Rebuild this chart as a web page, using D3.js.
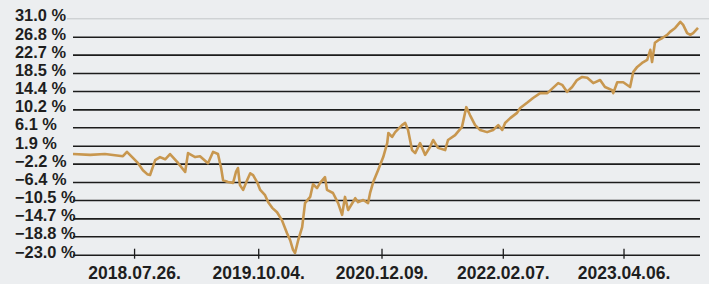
<!DOCTYPE html>
<html>
<head>
<meta charset="utf-8">
<title>Hozam</title>
<script src="https://d3js.org/d3.v7.min.js"></script>
<style>
  body { margin: 0; background: #eceef0; overflow: hidden; }
  svg { display: block; }
  text { font-family: "Liberation Sans", Arial, sans-serif; font-weight: bold; fill: #1e1e1e; }
</style>
</head>
<body>
<svg width="709" height="284"></svg>
<script>
// cumulative return, %
const dates = [
  "2017-12-24","2018-02-22","2018-04-15","2018-06-17","2018-07-01","2018-07-22","2018-08-09","2018-08-26",
  "2018-09-10","2018-09-20","2018-10-08","2018-10-25","2018-11-12","2018-11-29","2018-12-24","2019-01-21",
  "2019-01-31","2019-02-25","2019-03-14","2019-04-11","2019-04-29","2019-05-16","2019-05-27","2019-06-03",
  "2019-06-20","2019-07-08","2019-07-18","2019-07-25","2019-08-01","2019-08-12","2019-08-26","2019-09-06",
  "2019-09-16","2019-09-30","2019-10-11","2019-10-28","2019-11-08","2019-11-22","2019-12-09","2019-12-26",
  "2020-01-13","2020-01-24","2020-02-03","2020-02-10","2020-02-21","2020-03-06","2020-03-16","2020-04-03",
  "2020-04-13","2020-04-27","2020-05-08","2020-05-25","2020-06-01","2020-06-22","2020-07-10","2020-07-24",
  "2020-08-03","2020-08-14","2020-09-08","2020-09-18","2020-10-06","2020-10-23","2020-10-30","2020-11-10",
  "2020-11-27","2020-12-15","2020-12-29","2021-01-02","2021-01-15","2021-01-26","2021-02-19","2021-03-02",
  "2021-03-12","2021-03-26","2021-04-06","2021-04-23","2021-05-11","2021-05-28","2021-06-08","2021-06-25",
  "2021-07-20","2021-07-30","2021-08-24","2021-09-17","2021-10-02","2021-10-15","2021-11-02","2021-11-19",
  "2021-12-14","2022-01-04","2022-01-22","2022-02-05","2022-02-15","2022-03-05","2022-03-29","2022-04-09",
  "2022-05-03","2022-05-24","2022-06-18","2022-07-13","2022-08-02","2022-08-20","2022-09-03","2022-09-20",
  "2022-10-08","2022-10-25","2022-11-12","2022-11-30","2022-12-21","2023-01-14","2023-01-31","2023-02-25",
  "2023-03-01","2023-03-15","2023-04-05","2023-04-29","2023-05-10","2023-05-24","2023-06-10","2023-06-28",
  "2023-07-09","2023-07-15","2023-07-25","2023-08-06","2023-08-20","2023-09-06","2023-09-16","2023-10-04",
  "2023-10-22","2023-11-01","2023-11-15","2023-11-26","2023-12-06","2023-12-23"
];
const values = [
  0.0, -0.2, 0.0, -0.5, 0.5, -0.9, -2.1, -3.7,
  -4.6, -4.8, -1.4, -0.7, -1.2, 0.0, -1.8, -4.1,
  0.2, -0.7, -0.5, -2.1, 0.5, 0.0, -3.2, -6.0,
  -6.4, -6.6, -4.1, -3.2, -7.1, -8.2, -6.0, -4.4,
  -4.8, -6.4, -8.2, -9.4, -11.0, -12.3, -13.3, -15.1,
  -18.1, -19.7, -21.9, -22.6, -19.7, -16.7, -11.2, -9.8,
  -6.9, -7.8, -6.6, -5.3, -8.2, -8.9, -11.2, -13.9,
  -9.8, -12.8, -10.1, -11.0, -10.5, -11.2, -8.9, -6.4,
  -3.7, -0.7, 2.5, 4.8, 3.9, 5.0, 6.6, 7.1,
  5.5, 0.9, 0.2, 2.5, -0.2, 1.6, 3.2, 1.4,
  0.9, 3.2, 4.3, 6.2, 10.7, 8.9, 6.6, 5.5,
  5.0, 5.5, 6.6, 5.5, 7.1, 8.2, 9.4, 10.5,
  11.7, 12.8, 13.9, 13.9, 15.1, 16.2, 15.8, 14.2,
  15.3, 16.9, 17.6, 17.4, 16.2, 16.9, 15.3, 14.6,
  13.9, 16.4, 16.4, 15.3, 18.7, 19.9, 20.8, 21.5,
  23.8, 21.0, 25.4, 26.0, 26.5, 27.2, 27.9, 28.8,
  30.2, 29.5, 27.6, 27.2, 27.6, 28.8
];
const yTicks = [31.0, 26.8, 22.7, 18.5, 14.4, 10.2, 6.1, 1.9, -2.2, -6.4, -10.5, -14.7, -18.8, -23.0];
const xTicks = ["2018-07-26", "2019-10-04", "2020-12-09", "2022-02-07", "2023-04-06"];

const parse = d3.timeParse("%Y-%m-%d");
const data = dates.map((d, i) => ({ date: parse(d), value: values[i] }));

const svg = d3.select("svg");
const plotLeft = 73, plotRight = 700, plotTop = 18.3, plotBottom = 254.7;

const x = d3.scaleTime()
  .domain([parse("2017-12-24"), parse("2023-12-30")])
  .range([plotLeft, plotRight]);

const y = d3.scaleLinear()
  .domain([-23, 31])
  .range([plotBottom, plotTop]);

// horizontal grid + labels
const yAxis = svg.append("g")
  .attr("transform", `translate(${plotRight},0)`)
  .call(d3.axisLeft(y)
    .tickValues(yTicks)
    .tickSize(plotRight - plotLeft)
    .tickFormat(d => d3.format(".1f")(d) + " %"));

yAxis.select(".domain").remove();
yAxis.selectAll(".tick line")
  .attr("stroke", "#1c1c1c")
  .attr("stroke-width", 1.6);
yAxis.selectAll(".tick text")
  .attr("x", 15 - plotRight)
  .attr("dy", null)
  .attr("y", 2.5)
  .attr("text-anchor", "start")
  .style("font-size", "16.4px");

// the top line is thin and light
yAxis.selectAll(".tick").filter(d => d === 31).select("line")
  .attr("x1", 9)
  .attr("x2", 67 - plotRight)
  .attr("stroke", "#c4c6c8")
  .attr("stroke-width", 1);

const xAxis = svg.append("g")
  .attr("transform", `translate(0,${plotBottom})`)
  .call(d3.axisBottom(x)
    .tickValues(xTicks.map(parse))
    .tickFormat(d3.timeFormat("%Y.%m.%d.")));

xAxis.select(".domain").remove();
xAxis.selectAll(".tick line")
  .attr("y1", -6)
  .attr("y2", 4)
  .attr("stroke", "#1c1c1c")
  .attr("stroke-width", 1.3);
xAxis.selectAll(".tick text")
  .attr("dy", null)
  .attr("y", 24.5)
  .style("font-size", "17.5px");

const line = d3.line()
  .x(d => x(d.date))
  .y(d => y(d.value));

svg.append("path")
  .datum(data)
  .attr("fill", "none")
  .attr("stroke", "#c8974f")
  .attr("stroke-width", 2.6)
  .attr("stroke-linejoin", "round")
  .attr("d", line);
</script>
</body>
</html>
